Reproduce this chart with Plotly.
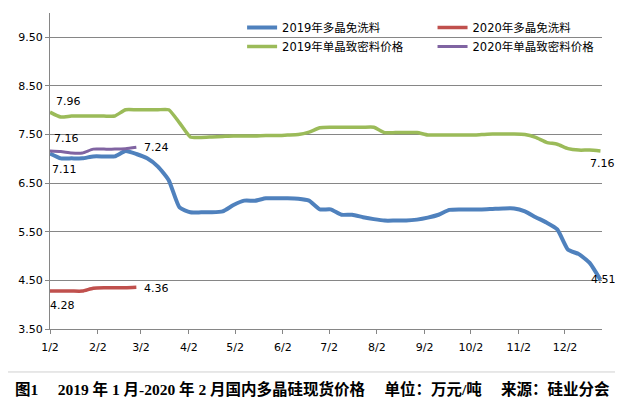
import pandas as pd
import plotly.graph_objects as go

# weekly quotes, 2020 drawn on the same Jan-Feb positions as 2019
weeks = pd.date_range("2019-01-02", periods=52, freq="7D")

poly_2019 = [7.11, 7.01, 7.01, 7.01, 7.05, 7.05, 7.05, 7.16, 7.10, 7.01,
             6.84, 6.56, 6.00, 5.90, 5.90, 5.90, 5.92, 6.05, 6.14, 6.14,
             6.19, 6.19, 6.19, 6.18, 6.14, 5.96, 5.96, 5.85, 5.85, 5.80,
             5.76, 5.73, 5.73, 5.73, 5.75, 5.79, 5.85, 5.95, 5.96, 5.96,
             5.96, 5.97, 5.98, 5.98, 5.92, 5.80, 5.69, 5.55, 5.13, 5.04,
             4.86, 4.51]
mono_2019 = [7.96, 7.86, 7.88, 7.88, 7.88, 7.88, 7.88, 8.01, 8.01, 8.01,
             8.01, 8.01, 7.74, 7.45, 7.44, 7.45, 7.46, 7.47, 7.47, 7.47,
             7.48, 7.48, 7.49, 7.50, 7.55, 7.64, 7.65, 7.65, 7.65, 7.65,
             7.65, 7.54, 7.54, 7.54, 7.54, 7.49, 7.49, 7.49, 7.49, 7.49,
             7.50, 7.51, 7.51, 7.51, 7.50, 7.44, 7.34, 7.30, 7.21, 7.18,
             7.18, 7.16]
poly_2020 = [4.28, 4.28, 4.28, 4.28, 4.34, 4.35, 4.35, 4.35, 4.36]
mono_2020 = [7.16, 7.15, 7.12, 7.12, 7.20, 7.20, 7.20, 7.21, 7.24]

month_ticks = ["2019-%02d-02" % m for m in range(1, 13)]
month_labels = ["%d/2" % m for m in range(1, 13)]

LAT = "DejaVu Sans, Noto Sans CJK SC"

fig = go.Figure()
series = [
    ("2019年多晶免洗料", weeks, poly_2019, "#4F81BD", 4, "legend"),
    ("2020年多晶免洗料", weeks[:9], poly_2020, "#C0504D", 3.5, "legend2"),
    ("2019年单晶致密料价格", weeks, mono_2019, "#9BBB59", 3.5, "legend"),
    ("2020年单晶致密料价格", weeks[:9], mono_2020, "#8064A2", 3, "legend2"),
]
for name, xs, ys, color, width, leg in series:
    fig.add_scatter(x=xs, y=ys, name=name, mode="lines", legend=leg,
                    line=dict(color=color, width=width, shape="spline", smoothing=0.5))

# first / last value labels: (x, y, xshift, yshift)
labels = [
    (weeks[0], mono_2019[0], 18, 11),
    (weeks[0], poly_2019[0], 14, -16),
    (weeks[0], mono_2020[0], 16, 13),
    (weeks[8], mono_2020[-1], 20, 0),
    (weeks[0], poly_2020[0], 12, -14),
    (weeks[8], poly_2020[-1], 20, -1),
    (weeks[-1], mono_2019[-1], 2, -12),
    (weeks[-1], poly_2019[-1], 3, 0),
]
for x, y, dx, dy in labels:
    fig.add_annotation(x=x, y=y, text="%.2f" % y, showarrow=False, xshift=dx, yshift=dy,
                       font=dict(family=LAT, size=11, color="#000000"))

fig.add_annotation(
    text="<b>图1\u2003 2019 年 1 月-2020 年 2 月国内多晶硅现货价格\u2003 单位：万元/吨\u2003 来源：硅业分会</b>",
    xref="paper", yref="paper", x=0.475, y=-0.19, xanchor="center", yanchor="middle",
    showarrow=False,
    font=dict(family="Liberation Serif, Noto Sans CJK SC", size=15.5, color="#000000"),
)
# right and bottom edge of the chart frame
fig.add_shape(type="line", xref="paper", yref="paper", x0=1.026, x1=1.026, y0=-0.136, y1=1.2,
              line=dict(color="#7f7f7f", width=2))
fig.add_shape(type="line", xref="paper", yref="paper", x0=-0.2, x1=1.026, y0=-0.136, y1=-0.136,
              line=dict(color="#d0d0d0", width=1))

leg_style = dict(y=1.0, xanchor="left", yanchor="top", bgcolor="rgba(0,0,0,0)",
                 tracegroupgap=0, itemwidth=30, font=dict(family=LAT, size=11.5))

fig.update_layout(
    width=615, height=396,
    margin=dict(l=42, r=21, t=5, b=75),
    paper_bgcolor="white", plot_bgcolor="white",
    font=dict(family=LAT, size=11, color="#000000"),
    showlegend=True,
    legend=dict(x=0.348, **leg_style),
    legend2=dict(x=0.693, **leg_style),
    xaxis=dict(
        range=["2019-01-02", "2019-12-26"], tickvals=month_ticks, ticktext=month_labels,
        showgrid=False, showline=True, linecolor="#868686", linewidth=1,
        ticks="outside", ticklen=4, tickcolor="#868686", ticklabelstandoff=4,
        zeroline=False,
    ),
    yaxis=dict(
        range=[3.5, 10.0], tick0=3.5, dtick=1.0, tickformat=".2f",
        showgrid=True, gridcolor="#868686", gridwidth=1,
        showline=True, linecolor="#868686", linewidth=1,
        ticks="outside", ticklen=4, tickcolor="#868686",
        zeroline=False,
    ),
)

fig.write_html("out.html")
